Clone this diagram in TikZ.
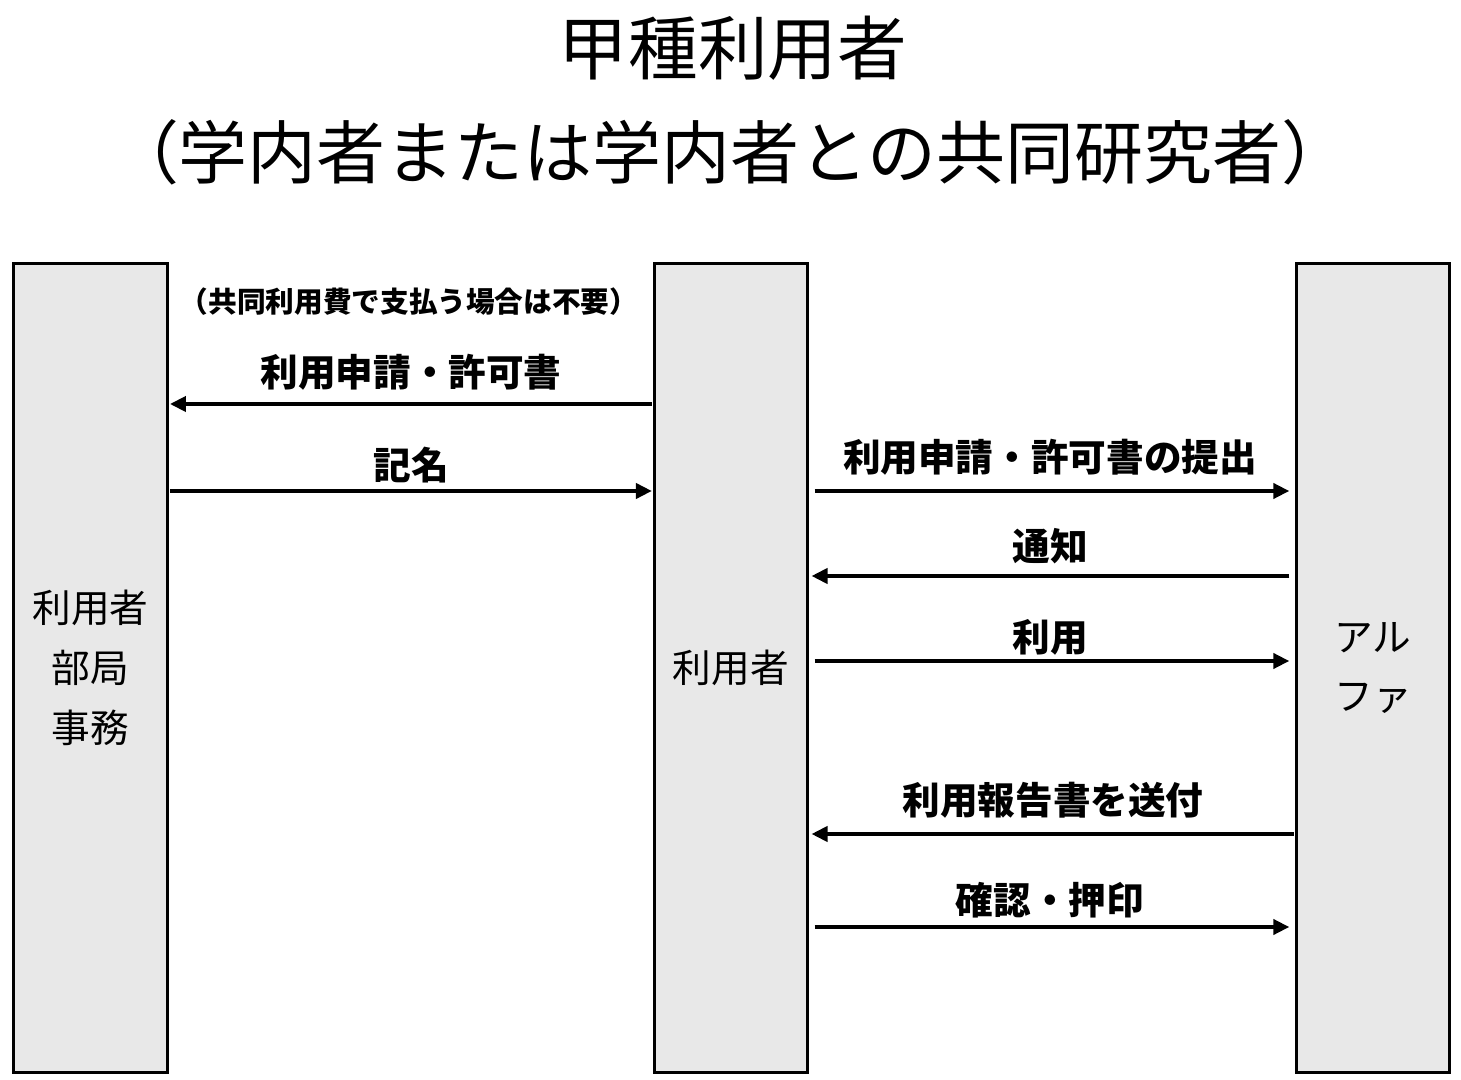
\documentclass[tikz,border=0pt]{standalone}
\usepackage{fontspec}
\setmainfont{Noto Sans CJK JP}
\usetikzlibrary{arrows.meta}
\definecolor{lanegray}{RGB}{232,232,232}
\tikzset{
	lane/.style = {draw, line width=0.85pt, fill=lanegray, minimum width=1.53cm, minimum height=8.08cm, inner sep=0pt, align=center, font=\fontsize{11}{17}\selectfont},
	msg/.style = {line width=1.1pt, -{Triangle[length=0.16cm, width=0.15cm]}},
	msglabel/.style = {font=\fontsize{10.7}{12}\selectfont\bfseries, inner sep=0pt}
}

\begin{document}
\begin{tikzpicture}[x=0.01cm, y=-0.01cm]
	\useasboundingbox (0,0) rectangle (1461,1080);
	\node[font=\fontsize{19.8}{22}\selectfont] (title) at (733,48) {甲種利用者};
	\node[font=\fontsize{19.6}{22}\selectfont] (subtitle) at (730,152) {（学内者または学内者との共同研究者）};
	\node[lane] (jimu) at (90.5,668) {利用者\\部局\\事務};
	\node[lane] (riyousha) at (731,668) {利用者};
	\node[lane] (alpha) at (1373,668) {アル\\ファ};
	\node[font=\fontsize{8.15}{9}\selectfont\bfseries, inner sep=0pt] (note) at (409,302) {（共同利用費で支払う場合は不要）};
	\node[msglabel] (l1) at (411,372) {利用申請・許可書};
	\node[msglabel] (l2) at (411,465) {記名};
	\node[msglabel] (l3) at (1050,457) {利用申請・許可書の提出};
	\node[msglabel] (l4) at (1050,546) {通知};
	\node[msglabel] (l5) at (1050,637) {利用};
	\node[msglabel] (l6) at (1053,800) {利用報告書を送付};
	\node[msglabel] (l7) at (1050,900) {確認・押印};
	\draw[msg, shorten <=0.3pt, shorten >=0.4pt] (riyousha.west |- 0,404) -- (jimu.east |- 0,404);
	\draw[msg, shorten <=0.4pt, shorten >=0.3pt] (jimu.east |- 0,491) -- (riyousha.west |- 0,491);
	\draw[msg, shorten <=1.6pt, shorten >=1.6pt] (riyousha.east |- 0,491) -- (alpha.west |- 0,491);
	\draw[msg, shorten <=1.6pt, shorten >=0.7pt] (alpha.west |- 0,576) -- (riyousha.east |- 0,576);
	\draw[msg, shorten <=1.6pt, shorten >=1.6pt] (riyousha.east |- 0,661) -- (alpha.west |- 0,661);
	\draw[msg, shorten <=0.4pt, shorten >=0.7pt] (alpha.west |- 0,834) -- (riyousha.east |- 0,834);
	\draw[msg, shorten <=1.6pt, shorten >=1.6pt] (riyousha.east |- 0,927) -- (alpha.west |- 0,927);
\end{tikzpicture}
\end{document}
